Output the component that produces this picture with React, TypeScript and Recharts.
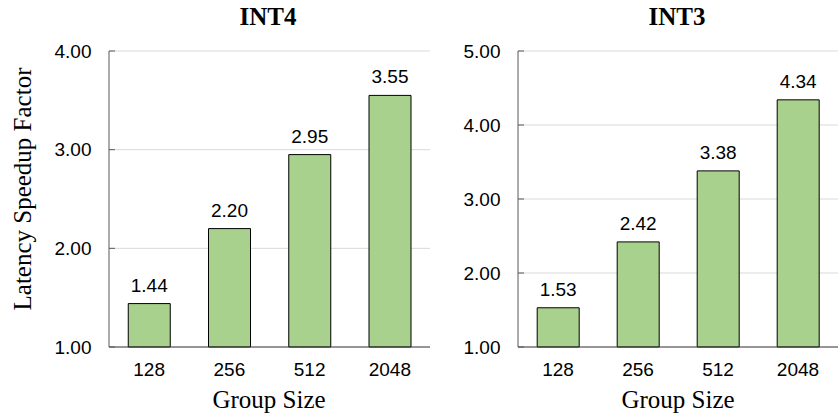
import { BarChart, Bar, XAxis, YAxis, CartesianGrid, LabelList } from "recharts";

const groupSizes = ["128", "256", "512", "2048"];
const int4Speedup = [1.44, 2.2, 2.95, 3.55];
const int3Speedup = [1.53, 2.42, 3.38, 4.34];
const int4Ticks = [1, 2, 3, 4];
const int3Ticks = [1, 2, 3, 4, 5];

const SANS = "'Liberation Sans', Arial, sans-serif";
const SERIF = "'Liberation Serif', 'Times New Roman', serif";

const toRows = (vals: number[]) => groupSizes.map((g, i) => ({ group: g, value: vals[i] }));

function Panel({
  values,
  ticks,
  width,
  marginLeft,
}: {
  values: number[];
  ticks: number[];
  width: number;
  marginLeft: number;
}) {
  return (
    <BarChart
      width={width}
      height={416}
      data={toRows(values)}
      margin={{ top: 51, right: 0, bottom: 0, left: marginLeft }}
      barCategoryGap="24%"
    >
      <CartesianGrid vertical={false} stroke="#d9d9d9" />
      <XAxis
        dataKey="group"
        height={69}
        tickLine={false}
        tickMargin={10}
        axisLine={{ stroke: "#404040" }}
        tick={{ fill: "#000", fontSize: 19, fontFamily: SANS }}
      />
      <YAxis
        width={79}
        domain={[ticks[0], ticks[ticks.length - 1]]}
        ticks={ticks}
        tickSize={-6}
        tickMargin={23.5}
        tickFormatter={(v: number) => v.toFixed(2)}
        axisLine={{ stroke: "#595959" }}
        tickLine={{ stroke: "#595959" }}
        tick={{ fill: "#000", fontSize: 19, fontFamily: SANS }}
      />
      <Bar dataKey="value" fill="#a9d18e" stroke="#000" strokeWidth={1} isAnimationActive={false}>
        <LabelList
          dataKey="value"
          position="top"
          offset={12}
          formatter={(v: number) => v.toFixed(2)}
          style={{ fill: "#000", fontSize: 19, fontFamily: SANS }}
        />
      </Bar>
    </BarChart>
  );
}

export default function App() {
  return (
    <div style={{ position: "absolute", left: 0, top: 0, width: 838, height: 416, background: "#fff" }}>
      <div style={{ position: "absolute", left: 0, top: 0 }}>
        <Panel values={int4Speedup} ticks={int4Ticks} width={430} marginLeft={30} />
      </div>
      <div style={{ position: "absolute", left: 430, top: 0 }}>
        <Panel values={int3Speedup} ticks={int3Ticks} width={408} marginLeft={9} />
      </div>
      <svg
        width={838}
        height={416}
        style={{ position: "absolute", left: 0, top: 0, pointerEvents: "none" }}
      >
        <text x={268} y={25} textAnchor="middle" fontFamily={SERIF} fontWeight="bold" fontSize={25}>
          INT4
        </text>
        <text x={677} y={25} textAnchor="middle" fontFamily={SERIF} fontWeight="bold" fontSize={25}>
          INT3
        </text>
        <text x={269} y={408} textAnchor="middle" fontFamily={SERIF} fontSize={25}>
          Group Size
        </text>
        <text x={678} y={408} textAnchor="middle" fontFamily={SERIF} fontSize={25}>
          Group Size
        </text>
        <text
          transform="translate(31,189) rotate(-90)"
          textAnchor="middle"
          fontFamily={SERIF}
          fontSize={25}
        >
          Latency Speedup Factor
        </text>
      </svg>
    </div>
  );
}
